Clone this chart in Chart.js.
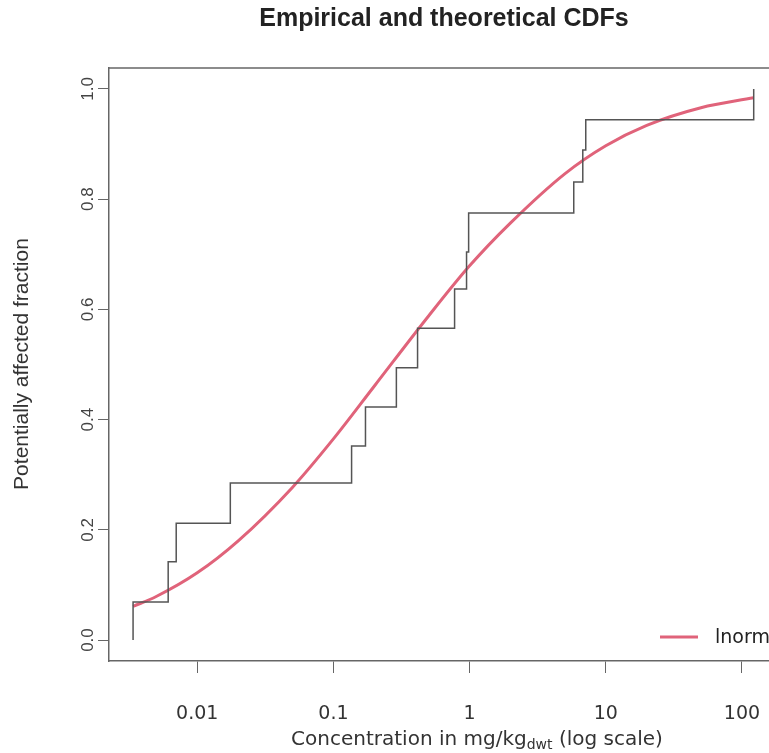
<!DOCTYPE html>
<html>
<head>
<meta charset="utf-8">
<script src="https://cdn.jsdelivr.net/npm/chart.js@4"></script>
<style>
  html, body { margin: 0; padding: 0; background: #fff; }
  #wrap { width: 769px; height: 753px; }
</style>
</head>
<body>
<div id="wrap"><canvas id="cdf"></canvas></div>
<script>
// empirical CDF (step points)
const ecdfX = [0.00338, 0.00338, 0.00612, 0.00701, 0.0175, 0.136, 0.172, 0.290, 0.415, 0.776, 0.95, 0.984, 5.82, 6.78, 7.13, 122];
const ecdfY = [0, 0.069, 0.142, 0.212, 0.285, 0.352, 0.423, 0.494, 0.566, 0.637, 0.704, 0.775, 0.831, 0.889, 0.944, 1.0];

// fitted lnorm curve
const fitX = [0.00338, 0.005, 0.01, 0.02, 0.05, 0.1, 0.2, 0.5, 1, 2, 5, 10, 20, 50, 122];
const fitY = [0.061, 0.079, 0.122, 0.180, 0.277, 0.365, 0.461, 0.588, 0.679, 0.757, 0.846, 0.897, 0.934, 0.966, 0.984];

const xTicks = [0.01, 0.1, 1, 10, 100];
const xTickLabels = ['0.01', '0.1', '1', '10', '100'];
const yTicks = [0, 0.2, 0.4, 0.6, 0.8, 1.0];

const boxColor = '#666';
const fitColor = '#e0637a';

const extras = {
    id: 'extras',
    afterDraw(chart) {
        const ctx = chart.ctx;
        const area = chart.chartArea;
        const yScale = chart.scales.y;
        ctx.save();

        // top border of the box
        ctx.strokeStyle = boxColor;
        ctx.lineWidth = 1.5;
        ctx.beginPath();
        ctx.moveTo(area.left, area.top);
        ctx.lineTo(area.right, area.top);
        ctx.stroke();

        // title
        ctx.fillStyle = '#222';
        ctx.font = 'bold 25px "Liberation Sans", Arial, sans-serif';
        ctx.textAlign = 'center';
        ctx.textBaseline = 'middle';
        ctx.fillText('Empirical and theoretical CDFs', 444, 19);

        // rotated y tick labels
        ctx.fillStyle = '#444';
        ctx.font = '17px "Liberation Sans", Arial, sans-serif';
        yScale.ticks.forEach(t => {
            const py = yScale.getPixelForValue(t.value);
            ctx.save();
            ctx.translate(88, py);
            ctx.rotate(-Math.PI / 2);
            ctx.fillText(t.value.toFixed(1), 0, 0);
            ctx.restore();
        });

        // y axis title
        ctx.save();
        ctx.translate(22, 364);
        ctx.rotate(-Math.PI / 2);
        ctx.font = '21px "Liberation Sans", Arial, sans-serif';
        ctx.fillStyle = '#333';
        ctx.fillText('Potentially affected fraction', 0, 0);
        ctx.restore();

        // x axis title with subscript
        const big = '20px "DejaVu Sans", sans-serif';
        const small = '14px "DejaVu Sans", sans-serif';
        const p1 = 'Concentration in mg/kg', p2 = 'dwt', p3 = ' (log scale)';
        ctx.font = big;
        const w1 = ctx.measureText(p1).width, w3 = ctx.measureText(p3).width;
        ctx.font = small;
        const w2 = ctx.measureText(p2).width;
        let x = 477 - (w1 + w2 + w3) / 2;
        const base = 745;
        ctx.textAlign = 'left';
        ctx.textBaseline = 'alphabetic';
        ctx.fillStyle = '#333';
        ctx.font = big; ctx.fillText(p1, x, base); x += w1;
        ctx.font = small; ctx.fillText(p2, x, base + 4); x += w2;
        ctx.font = big; ctx.fillText(p3, x, base);

        // legend
        ctx.strokeStyle = fitColor;
        ctx.lineWidth = 3;
        ctx.beginPath();
        ctx.moveTo(660, 637);
        ctx.lineTo(698, 637);
        ctx.stroke();
        ctx.fillStyle = '#222';
        ctx.font = '19px "DejaVu Sans", sans-serif';
        ctx.textBaseline = 'middle';
        ctx.fillText('lnorm', 715, 638);

        ctx.restore();
    }
};

new Chart(document.getElementById('cdf').getContext('2d'), {
    type: 'line',
    data: {
        datasets: [{
            label: 'empirical',
            data: ecdfX.map((v, i) => ({ x: v, y: ecdfY[i] })),
            borderColor: '#555',
            borderWidth: 1.5,
            stepped: 'before',
            pointRadius: 0,
            fill: false
        }, {
            label: 'lnorm',
            data: fitX.map((v, i) => ({ x: v, y: fitY[i] })),
            borderColor: fitColor,
            borderWidth: 3,
            cubicInterpolationMode: 'monotone',
            pointRadius: 0,
            fill: false
        }]
    },
    options: {
        responsive: true,
        maintainAspectRatio: false,
        animation: false,
        layout: { padding: { top: 68, left: 0, right: 0, bottom: 0 } },
        plugins: {
            legend: { display: false },
            tooltip: { enabled: false }
        },
        scales: {
            x: {
                type: 'logarithmic',
                min: 0.00225,
                max: 158,
                afterBuildTicks: s => { s.ticks = xTicks.map(v => ({ value: v })); },
                afterFit: s => { s.height = 92; s.paddingLeft = 0; s.paddingRight = 0; },
                grid: { drawOnChartArea: false, drawTicks: true, tickLength: 12, color: boxColor },
                border: { display: true, color: boxColor, width: 1.5 },
                ticks: {
                    autoSkip: false,
                    maxRotation: 0,
                    padding: 30,
                    color: '#333',
                    font: { family: '"DejaVu Sans", sans-serif', size: 19 },
                    callback: (v) => {
                        const i = xTicks.indexOf(v);
                        return i >= 0 ? xTickLabels[i] : '';
                    }
                }
            },
            y: {
                min: -0.038,
                max: 1.038,
                afterBuildTicks: s => { s.ticks = yTicks.map(v => ({ value: v })); },
                afterFit: s => { s.width = 109; s.paddingTop = 0; s.paddingBottom = 0; },
                grid: { drawOnChartArea: false, drawTicks: true, tickLength: 11, color: boxColor },
                border: { display: true, color: boxColor, width: 1.5 },
                ticks: { color: 'rgba(0,0,0,0)', padding: 0 }
            }
        }
    },
    plugins: [extras]
});
</script>
</body>
</html>
